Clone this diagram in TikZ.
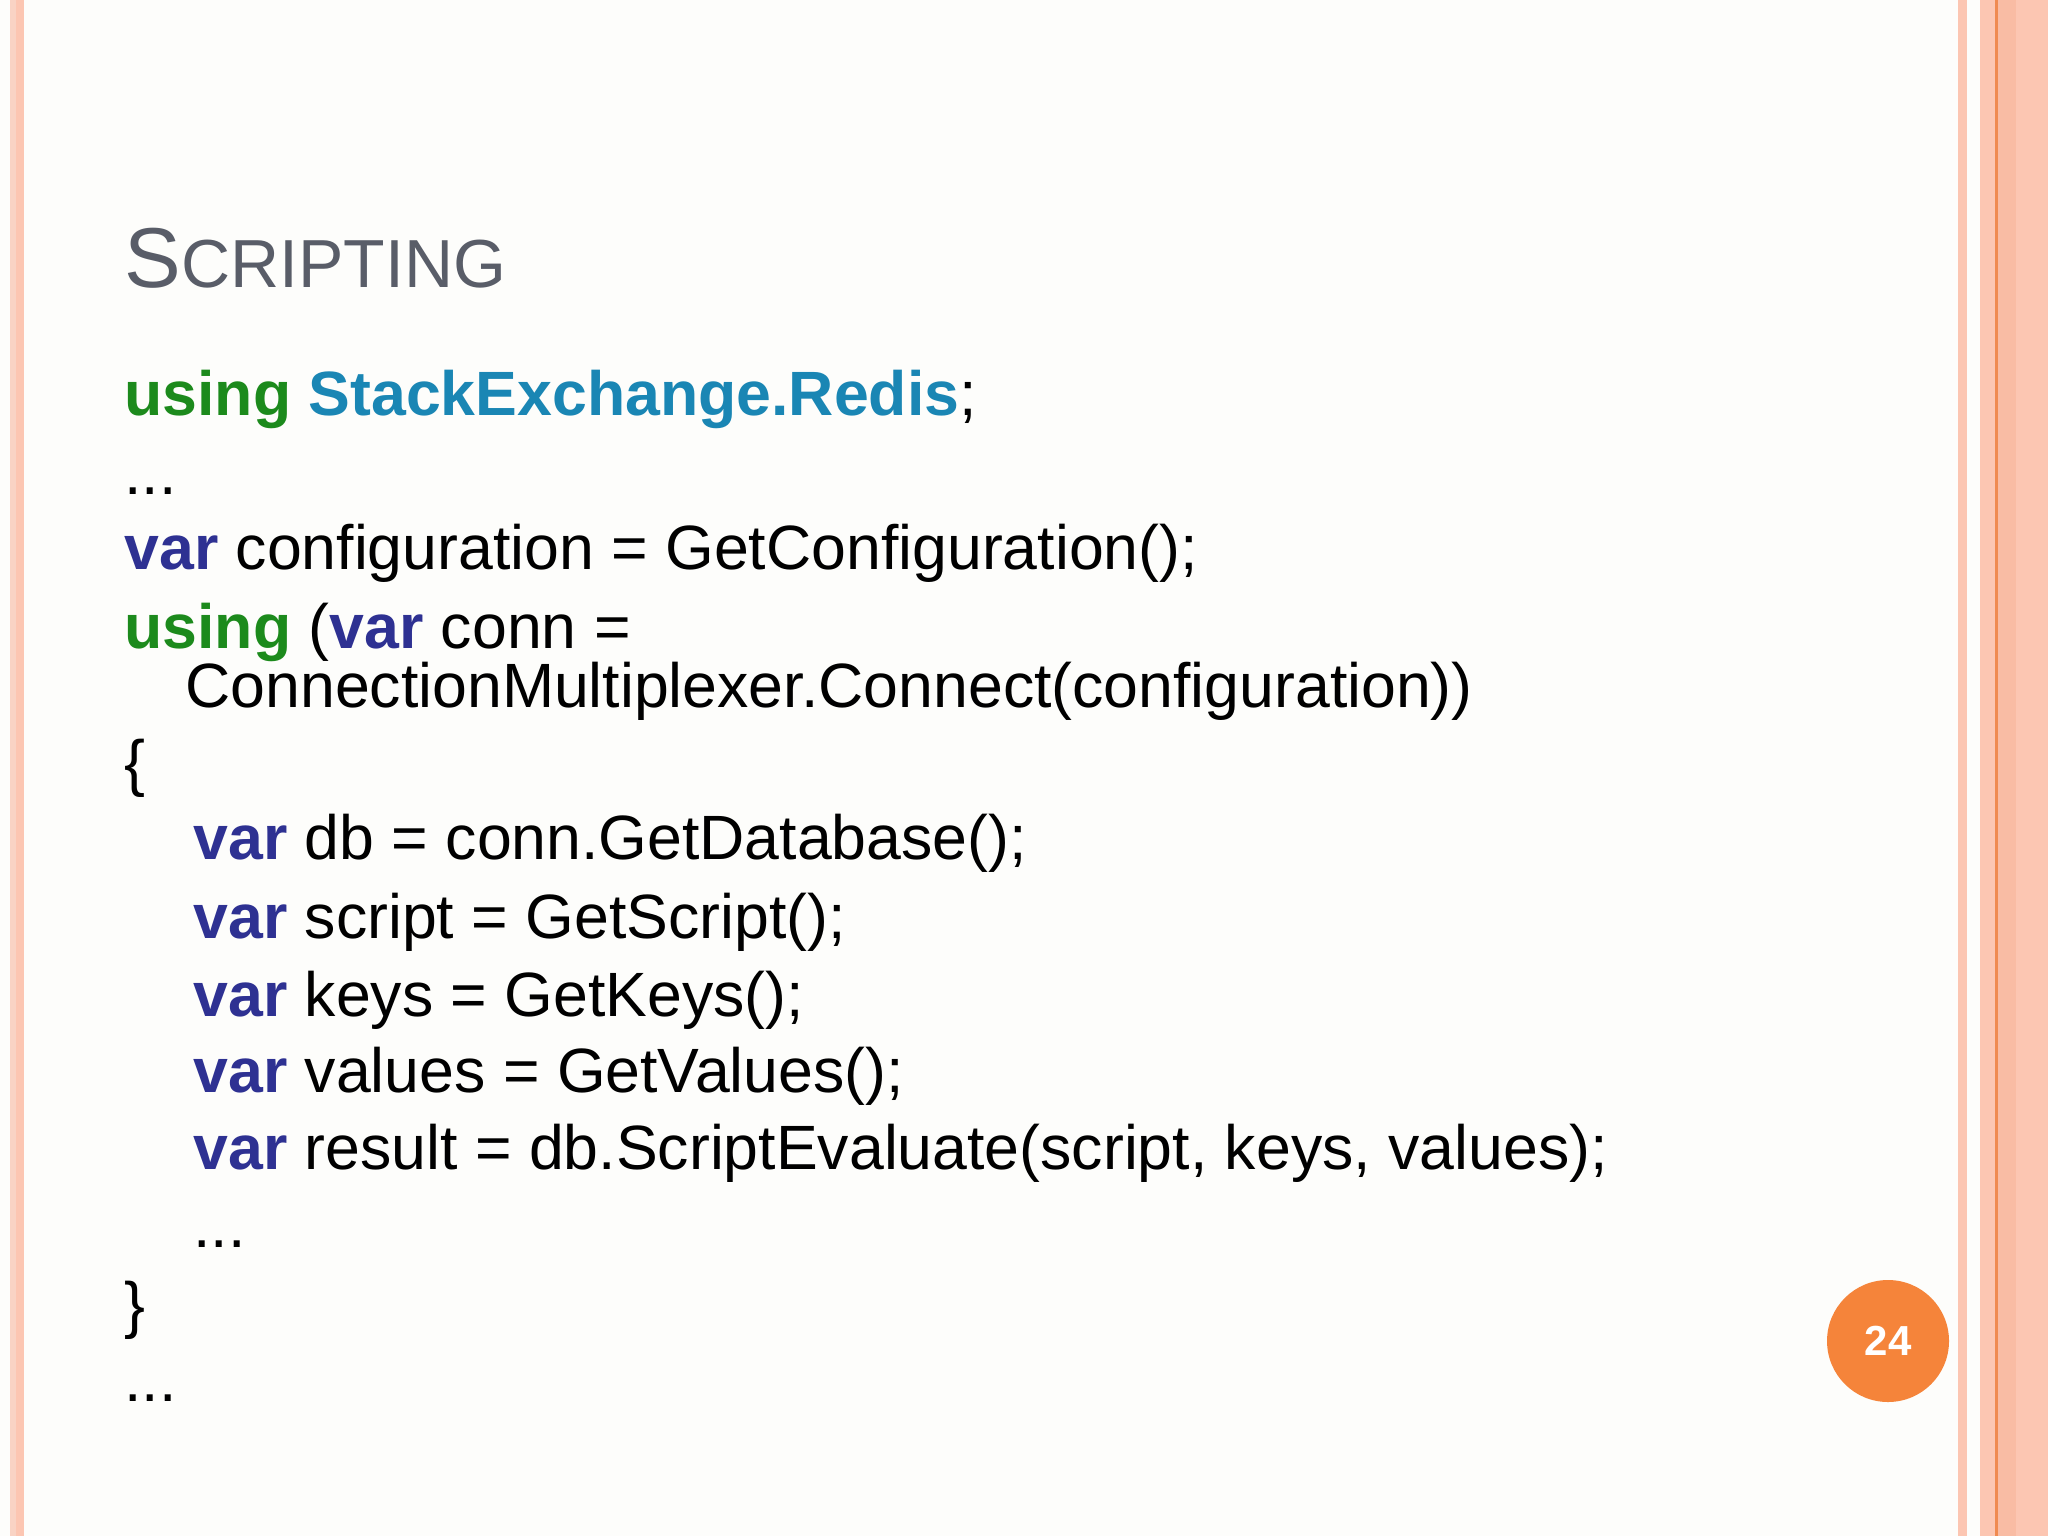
\documentclass[tikz,border=0pt]{standalone}
\usepackage{fontspec}
\setmainfont{Liberation Sans}
\definecolor{bg}{HTML}{FDFDFB}
\definecolor{pk}{HTML}{FCC6B2}
\definecolor{pkl}{HTML}{F9D3C4}
\definecolor{pkd}{HTML}{F9BCA4}
\definecolor{orl}{HTML}{F08A50}
\definecolor{ttl}{HTML}{595D68}
\definecolor{kwg}{HTML}{1C8A1C}
\definecolor{kwt}{HTML}{1A86B4}
\definecolor{kwv}{HTML}{2E3192}
\definecolor{circ}{HTML}{F5843A}
\newcommand{\kg}[1]{\textbf{\textcolor{kwg}{#1}}}
\newcommand{\kt}[1]{\textbf{\textcolor{kwt}{#1}}}
\newcommand{\kv}[1]{\textbf{\textcolor{kwv}{#1}}}
\begin{document}
\begin{tikzpicture}[x=0.5pt,y=-0.5pt,
  code/.style={anchor=base west,inner sep=0pt,font=\fontsize{31.3}{38}\selectfont}]
\useasboundingbox (0,0) rectangle (2048,1536);
\fill[bg] (0,0) rectangle (2048,1536);
\fill[pkl] (10,0) rectangle (16,1536);
\fill[pk] (16,0) rectangle (24,1536);
\fill[pk] (1958,0) rectangle (1967,1536);
\fill[pk] (1980,0) rectangle (2048,1536);
\fill[pkd] (1997,0) rectangle (2016,1536);
\fill[orl] (1995,0) rectangle (1997.5,1536);
\node[anchor=base west,inner sep=0pt,text=ttl] (title) at (124,287)
  {\fontsize{42.5}{50}\selectfont S\fontsize{34}{40}\selectfont CRIPTING};
\node[code] (l1) at (124,415) {\kg{using} \kt{StackExchange.Redis};};
\node[code] (l2) at (124,494) {...};
\node[code] (l3) at (124,569) {\kv{var} configuration = GetConfiguration();};
\node[code] (l4) at (124,648) {\kg{using} (\kv{var} conn =};
\node[code] (l5) at (185,707) {ConnectionMultiplexer.Connect(configuration))};
\node[code] (l6) at (124,784) {\{};
\node[code] (l7) at (193,859) {\kv{var} db = conn.GetDatabase();};
\node[code] (l8) at (193,938) {\kv{var} script = GetScript();};
\node[code] (l9) at (193,1016) {\kv{var} keys = GetKeys();};
\node[code] (l10) at (193,1092) {\kv{var} values = GetValues();};
\node[code] (l11) at (193,1169) {\kv{var} result = db.ScriptEvaluate(script, keys, values);};
\node[code] (l12) at (193,1247) {...};
\node[code] (l13) at (124,1326) {\}};
\node[code] (l14) at (124,1401) {...};
\node[circle,fill=circ,minimum size=61pt,inner sep=0pt,text=white,
  font=\fontsize{21}{24}\selectfont\bfseries] (pg) at (1888,1341) {24};
\end{tikzpicture}
\end{document}
